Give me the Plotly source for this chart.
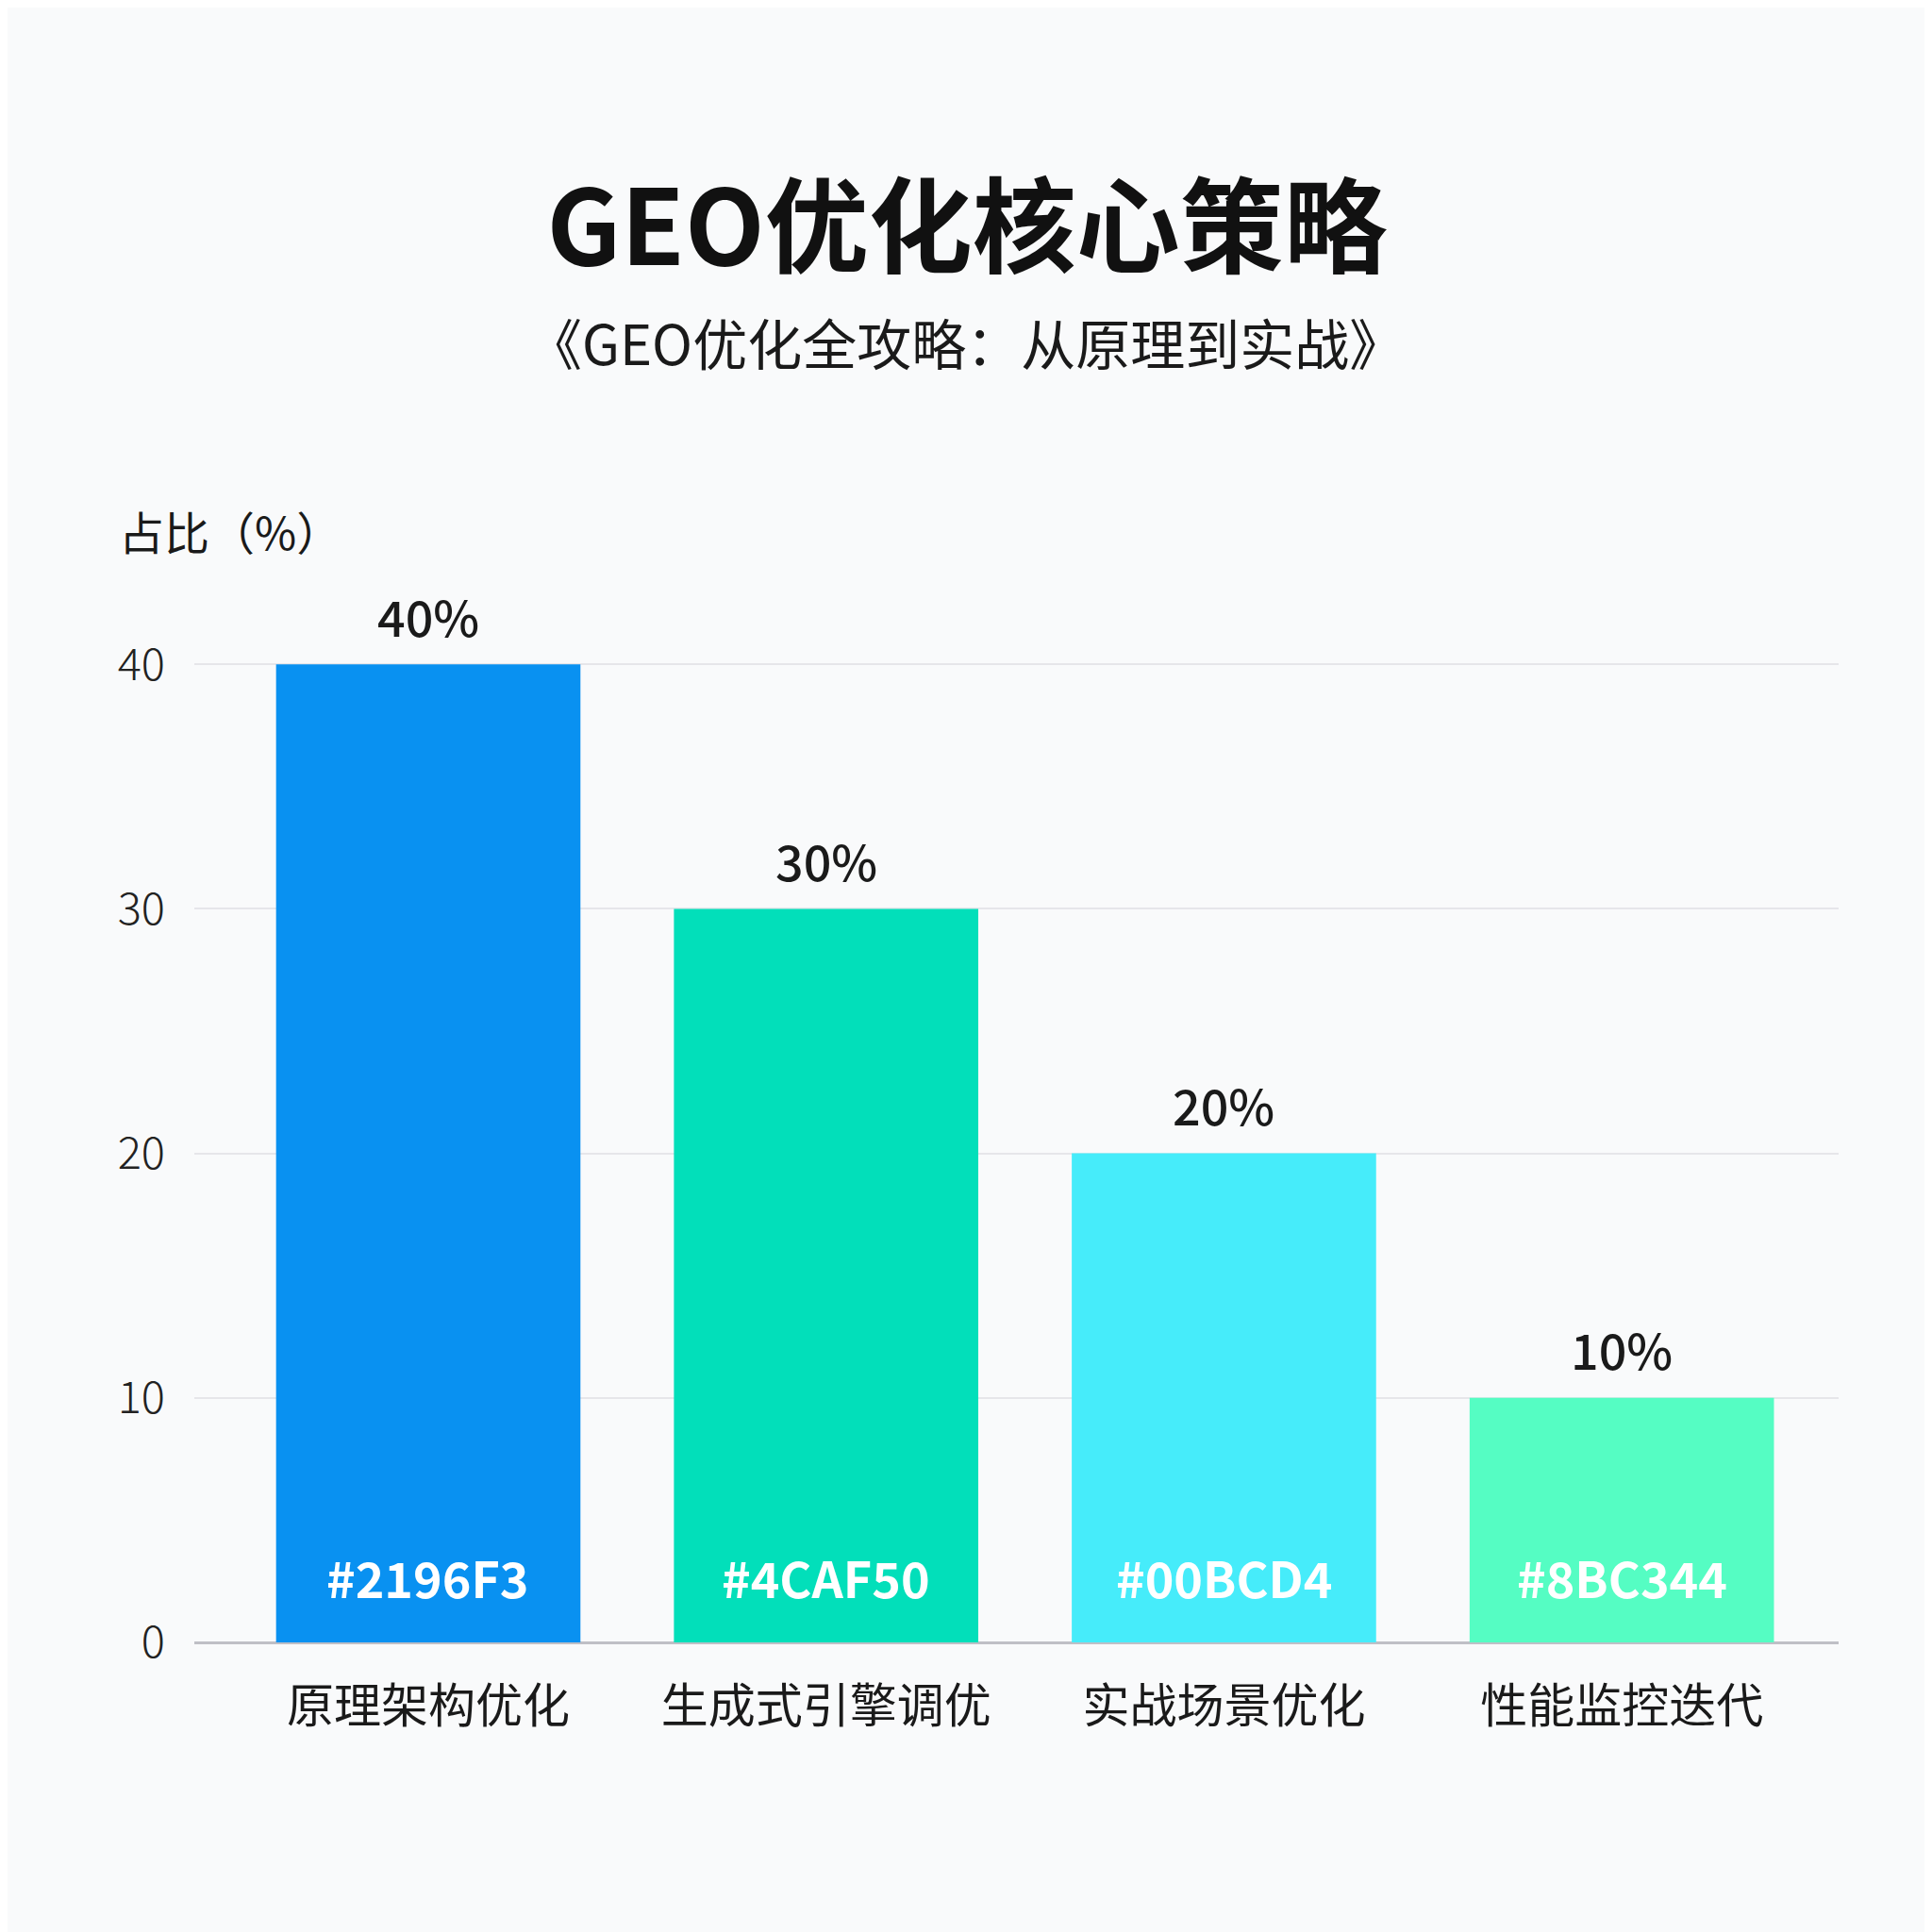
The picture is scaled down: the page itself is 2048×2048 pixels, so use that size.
import plotly.graph_objects as go

# chart data
categories = ["原理架构优化", "生成式引擎调优", "实战场景优化", "性能监控迭代"]
shares = [40, 30, 20, 10]
hex_labels = ["#2196F3", "#4CAF50", "#00BCD4", "#8BC344"]
bar_colors = ["#0991F1", "#02DFBA", "#46ECFA", "#55FDC3"]
y_ticks = [0, 10, 20, 30, 40]

FONT = "Noto Sans CJK SC"
BG = "#F9FAFB"

fig = go.Figure()
fig.add_trace(go.Bar(
    x=categories,
    y=shares,
    marker=dict(color=bar_colors, line=dict(width=0)),
    hoverinfo="skip",
    cliponaxis=False,
))

# value labels above bars, colour code labels near the base
for cat, val, hx in zip(categories, shares, hex_labels):
    fig.add_annotation(
        x=cat, y=val, text=f"{val}%", showarrow=False,
        yanchor="middle", yshift=52,
        font=dict(family=FONT, size=52, color="#1a1a1a", weight=500),
    )
    fig.add_annotation(
        x=cat, y=0, text=hx, showarrow=False,
        yanchor="middle", yshift=70,
        font=dict(family=FONT, size=52, color="white", weight=600),
    )

# subtitle and y-axis caption
fig.add_annotation(
    xref="paper", yref="paper", x=0.4693, y=1.3234,
    text="《GEO优化全攻略：从原理到实战》", showarrow=False,
    xanchor="center", yanchor="middle",
    font=dict(family=FONT, size=58, color="#1a1a1a"),
)
fig.add_annotation(
    xref="paper", yref="paper", x=-0.047, y=1.1315,
    text="占比（%）", showarrow=False,
    xanchor="left", yanchor="middle",
    font=dict(family=FONT, size=48, color="#1a1a1a"),
)

fig.update_layout(
    width=2048,
    height=2048,
    margin=dict(l=198, r=107, t=691, b=315),
    paper_bgcolor=BG,
    plot_bgcolor=BG,
    bargap=0.235,
    showlegend=False,
    title=dict(
        text="GEO优化核心策略",
        xref="container", x=0.4966, xanchor="center",
        yref="container", y=1 - 234 / 2048, yanchor="middle",
        font=dict(family=FONT, size=110, color="#111111", weight="bold"),
    ),
    xaxis=dict(
        range=[-0.588, 3.545],
        showgrid=False,
        showline=False,
        zeroline=False,
        ticks="",
        ticklabelstandoff=34,
        tickfont=dict(family=FONT, size=50, color="#1a1a1a"),
    ),
    yaxis=dict(
        range=[0, 40.2],
        tickvals=y_ticks,
        showgrid=True,
        gridcolor="#E6E6EA",
        gridwidth=2,
        zeroline=True,
        zerolinecolor="#BFBFC6",
        zerolinewidth=3,
        showline=False,
        ticks="",
        ticklabelstandoff=30,
        tickfont=dict(family=FONT, size=47, color="#222222", weight=300),
    ),
)

fig.write_html("out.html")
